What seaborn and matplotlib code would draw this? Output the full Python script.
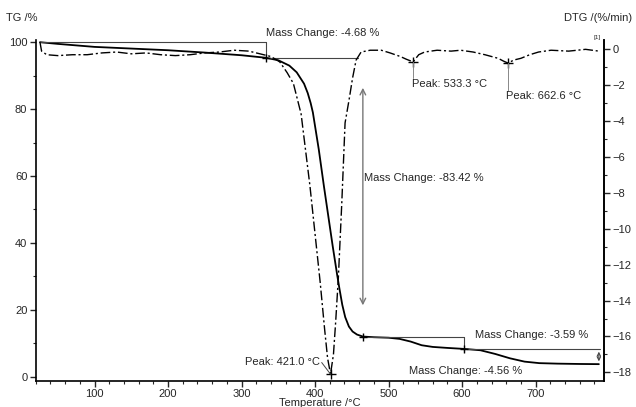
import matplotlib
matplotlib.use("Agg")
import matplotlib.pyplot as plt
from matplotlib.ticker import MultipleLocator
import seaborn as sns
import pandas as pd

sns.set_style("ticks")
plt.rcParams['font.family'] = ['Liberation Sans', 'DejaVu Sans']

# ---- data ----
tg_temp = [25.8, 50, 100, 150, 200, 250, 300, 333, 350, 365, 375, 385, 390, 394, 397, 405, 412,
           418, 424, 430, 433, 437, 441, 446, 451, 457, 465, 480, 500, 515, 530, 545,
           560, 580, 603, 625, 645, 665, 685, 705, 730, 760, 786]
tg_mass = [100, 99.5, 98.6, 98.1, 97.6, 96.9, 96.1, 95.35, 94.6, 93.0, 91.0, 87.6, 84.8, 81.8, 79.0,
           68.0, 57.0, 48.0, 39.0, 30.5, 26.5, 21.5, 17.8, 15.0, 13.5, 12.6, 12.0, 11.8,
           11.65, 11.3, 10.5, 9.4, 8.9, 8.6, 8.3, 7.9, 6.8, 5.5, 4.5, 4.05, 3.9, 3.8, 3.75]

dtg_temp = [25.8, 28, 35, 50, 70, 90, 110, 130, 150, 170, 190, 210, 230, 250, 270, 290,
            310, 325, 340, 352, 362, 370.5, 381, 393, 400, 407, 413, 417, 421, 425, 428,
            431.7, 436.3, 440.8, 446.3, 451, 455.8, 462.6, 475, 490, 502, 516, 524, 533.3,
            541, 549, 566, 585, 598, 615, 631, 649, 656, 662.6, 670, 680, 692, 704, 721,
            745, 768, 786]
dtg_rate = [0.4, -0.1, -0.3, -0.35, -0.3, -0.3, -0.2, -0.15, -0.25, -0.2, -0.3, -0.35,
            -0.3, -0.2, -0.15, -0.05, -0.1, -0.25, -0.4, -0.7, -1.3, -1.9, -3.6, -7.6,
            -10.3, -13.0, -15.6, -17.2, -18.1, -17.0, -15.2, -12.7, -8.6, -4.1, -2.8, -1.6,
            -0.6, -0.15, -0.05, -0.05, -0.2, -0.4, -0.55, -0.7, -0.3, -0.15, -0.05, -0.1,
            -0.05, -0.15, -0.3, -0.5, -0.65, -0.77, -0.6, -0.5, -0.3, -0.15, -0.05, -0.1,
            0.0, -0.1]

peak_temps = [421.0, 533.3, 662.6]
peak_rates = [-18.1, -0.7, -0.77]
peak_labels = ["Peak: 421.0 °C", "Peak: 533.3 °C", "Peak: 662.6 °C"]

step_temps = [333, 465, 603, 786]
step_mass = [95.32, 11.9, 8.31, 3.75]
mass_labels = ["Mass Change: -4.68 %", "Mass Change: -83.42 %",
               "Mass Change: -3.59 %", "Mass Change: -4.56 %"]

x_ticks = [100, 200, 300, 400, 500, 600, 700]
tg_ticks = [0, 20, 40, 60, 80, 100]
dtg_ticks = [0, -2, -4, -6, -8, -10, -12, -14, -16, -18]

tg_df = pd.DataFrame({"T": tg_temp, "TG": tg_mass})
dtg_df = pd.DataFrame({"T": dtg_temp, "DTG": dtg_rate})

# ---- figure ----
W, H = 636, 407
fig = plt.figure(figsize=(W / 100, H / 100), dpi=100)
ax = fig.add_axes([35.7 / W, 26 / H, (604 - 35.7) / W, 341 / H])
ax2 = ax.twinx()

sns.lineplot(data=tg_df, x="T", y="TG", ax=ax, color="black", lw=1.3,
             estimator=None, sort=False)
sns.lineplot(data=dtg_df, x="T", y="DTG", ax=ax2, color="black", lw=1.0,
             estimator=None, sort=False, linestyle=(0, (7, 2, 1.5, 2)))

ax.set_xlim(20, 793)
ax.set_ylim(-1.29, 100.66)
ax2.set_ylim(-18.48, 0.52)

ax.set_xticks(x_ticks)
ax.set_yticks(tg_ticks)
ax2.set_yticks(dtg_ticks)
ax.xaxis.set_minor_locator(MultipleLocator(20))
ax.yaxis.set_minor_locator(MultipleLocator(10))
ax2.yaxis.set_minor_locator(MultipleLocator(1))
for a in (ax, ax2):
    a.tick_params(which="major", direction="out", length=4, width=1, labelsize=8, pad=2)
    a.tick_params(which="minor", direction="out", length=2.5, width=0.8)
    a.set_xlabel("")
    a.set_ylabel("")
    a.spines["top"].set_visible(False)
    for s in ("left", "bottom", "right"):
        a.spines[s].set_linewidth(1.2)
        a.spines[s].set_color("black")
ax2.spines["left"].set_visible(False)
ax2.spines["bottom"].set_visible(False)

gray = "#444444"
lw_b = 0.8
# bracket for first mass change
ax.plot([tg_temp[0], step_temps[0]], [100, 100], color=gray, lw=lw_b)
ax.plot([step_temps[0], step_temps[0]], [100, step_mass[0]], color=gray, lw=lw_b)
ax.plot([step_temps[0], 458.5], [step_mass[0], step_mass[0]], color=gray, lw=lw_b)
ax.text(step_temps[0] + 0.5, 102.75, mass_labels[0], fontsize=8, ha="left", va="center")
# main mass change arrow
ax.annotate("", xy=(step_temps[1], 20.5), xytext=(step_temps[1], 87.2),
            arrowprops=dict(arrowstyle="<->", color="#777777", lw=1.0))
ax.text(466.5, 59.4, mass_labels[1], fontsize=8, ha="left", va="center")
# bracket for third mass change
ax.plot([step_temps[1], step_temps[2]], [step_mass[1], step_mass[1]], color=gray, lw=lw_b)
ax.plot([step_temps[2], step_temps[2]], [step_mass[1], 7.4], color=gray, lw=lw_b)
ax.plot([step_temps[2], 788], [step_mass[2], step_mass[2]], color=gray, lw=lw_b)
ax.text(617.7, 12.5, mass_labels[2], fontsize=8, ha="left", va="center")
# last step
ax.annotate("", xy=(step_temps[3], step_mass[3]), xytext=(step_temps[3], step_mass[2]),
            arrowprops=dict(arrowstyle="<->", color=gray, lw=0.8, mutation_scale=6))
ax.text(527.9, 1.7, mass_labels[3], fontsize=8, ha="left", va="center")
ax.plot(step_temps[:3], step_mass[:3], ls="none", marker="+", ms=6, color="black", mew=1)

# peaks
ax2.plot(peak_temps, peak_rates, ls="none", marker="+", ms=7, color="black", mew=1)
ax2.plot([409.0, peak_temps[0]], [-17.45, peak_rates[0]], color=gray, lw=0.7)
ax2.text(407.0, -17.4, peak_labels[0], fontsize=8, ha="right", va="center")
ax2.plot([peak_temps[1], peak_temps[1]], [peak_rates[1], -1.6], color="#888888", lw=0.7)
ax2.text(531.4, -1.93, peak_labels[1], fontsize=8, ha="left", va="center")
ax2.plot([peak_temps[2], peak_temps[2]], [peak_rates[2], -2.3], color="#888888", lw=0.7)
ax2.text(660.0, -2.6, peak_labels[2], fontsize=8, ha="left", va="center")

# axis titles
fig.text(6 / W, 1 - 18 / H, "TG /%", fontsize=8, ha="left", va="center")
fig.text(632 / W, 1 - 18 / H, "DTG /(%/min)", fontsize=8, ha="right", va="center")
fig.text(320 / W, 1 - 403.5 / H, "Temperature /°C", fontsize=8, ha="center", va="center")
fig.text(597 / W, 1 - 38 / H, "[1]", fontsize=4.5, ha="center", va="center")

fig.savefig("out.png", dpi=100)
